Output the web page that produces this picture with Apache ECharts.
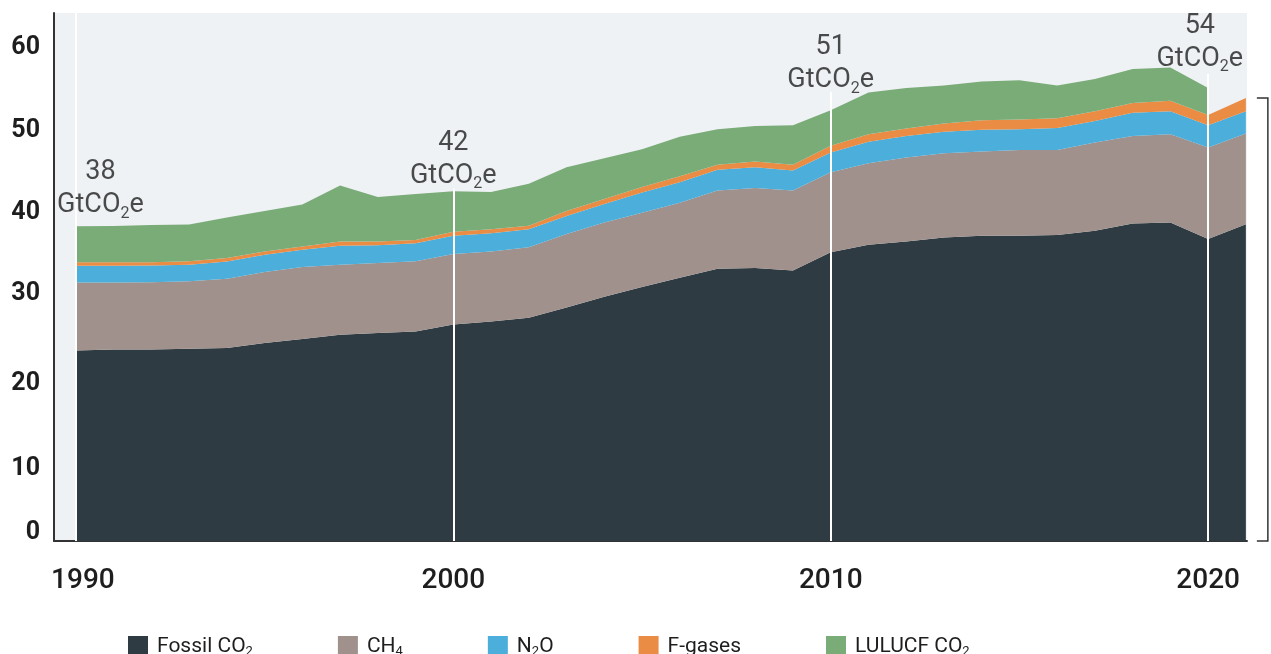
<!DOCTYPE html>
<html>
<head>
<meta charset="utf-8">
<script src="https://cdn.jsdelivr.net/npm/echarts@6/dist/echarts.min.js"></script>
<style>
html,body{margin:0;padding:0;background:#ffffff;}
#chart{width:1271px;height:654px;}
</style>
</head>
<body>
<div id="chart"></div>
<script>
// ---- data (GtCO2e) ----
const years = [1990,1991,1992,1993,1994,1995,1996,1997,1998,1999,2000,2001,2002,2003,2004,2005,2006,2007,2008,2009,2010,2011,2012,2013,2014,2015,2016,2017,2018,2019,2020,2021];
const fossilCO2 = [23.1,23.2,23.2,23.3,23.4,24.0,24.5,25.0,25.2,25.4,26.25,26.6,27.05,28.3,29.6,30.8,31.9,33.0,33.1,32.8,35.0,35.9,36.3,36.8,37.0,37.0,37.1,37.6,38.5,38.6,36.6,38.4];
const ch4 = [8.23,8.13,8.17,8.2,8.4,8.6,8.7,8.5,8.5,8.5,8.55,8.5,8.55,8.9,9.0,9.0,9.1,9.5,9.7,9.7,9.7,9.9,10.2,10.2,10.2,10.4,10.3,10.7,10.6,10.7,11.1,11.0];
const n2o = [2.02,2.02,2.03,2.0,2.07,2.1,2.1,2.3,2.15,2.2,2.2,2.2,2.2,2.2,2.25,2.45,2.5,2.5,2.5,2.4,2.4,2.6,2.6,2.6,2.65,2.5,2.65,2.6,2.8,2.8,2.7,2.7];
const fGases = [0.45,0.45,0.4,0.4,0.43,0.4,0.4,0.5,0.45,0.4,0.5,0.5,0.4,0.6,0.6,0.65,0.7,0.6,0.7,0.7,0.8,0.9,0.9,1.0,1.15,1.2,1.2,1.2,1.2,1.25,1.25,1.6];
const lulucfCO2 = [4.34,4.39,4.5,4.45,4.9,4.9,5.1,6.8,5.4,5.55,4.9,4.5,5.1,5.3,4.95,4.6,4.8,4.3,4.3,4.8,4.3,5.05,4.9,4.6,4.7,4.75,3.95,3.9,4.1,4.05,3.25,null];

const seriesNames = ['Fossil CO2','CH4','N2O','F-gases','LULUCF CO2'];
const seriesValues = [fossilCO2, ch4, n2o, fGases, lulucfCO2];
const xTickValues = [1990, 2000, 2010, 2020];
const yTickValues = [0, 10, 20, 30, 40, 50, 60];
const annotationTotals = ['38', '42', '51', '54'];
const annotationYears = [1990, 2000, 2010, 2021];

// ---- styling / layout ----
const colors = ['#2e3b42', '#a0918c', '#4caeda', '#ea8c44', '#7aac78'];
const plotBg = '#eff2f5';
const textColor = '#1e1e1e';
const FONT = 'Roboto, "Noto Sans", sans-serif';
// label anchor placement (year offset, height above total) per annotation
const annotationPlacement = [[0.65, 4.55], [0, 3.85], [0, 5.65], [-1.22, 6.75]];
// upper end (axis units) of the white decade guide lines, stopping under the labels
const guideTops = [64, 42.7, 54.4, 56.6];
// small vertical nudges (px) of y tick labels as in the original artwork
const yLabelNudge = { 0: -8, 10: 10, 20: 8, 30: 0, 40: 2, 50: 2, 60: 2 };

function totalAt(i) {
  let t = 0;
  seriesValues.forEach(arr => { if (arr[i] != null) t += arr[i]; });
  return t;
}

const lastIdx = years.length - 1;
const lastTotal = totalAt(lastIdx);

// value first, year second -> stacking happens on the value dimension
const areaSeries = seriesNames.map((name, k) => ({
  name: name,
  type: 'line',
  stack: 'total',
  symbol: 'none',
  showSymbol: false,
  smooth: false,
  connectNulls: false,
  lineStyle: { width: 0 },
  areaStyle: { color: colors[k], opacity: 1 },
  itemStyle: { color: colors[k] },
  emphasis: { disabled: true },
  dimensions: ['value', 'year'],
  encode: { x: 'year', y: 'value' },
  data: years.map((y, i) => [seriesValues[k][i] == null ? null : seriesValues[k][i], y])
}));

function subFmt(name) {
  return name.replace(/([A-Za-z])(\d)/g, '$1\u0000$2\u0001')
    .split(/(\u0000\d\u0001)/)
    .filter(s => s.length)
    .map(s => s.charAt(0) === '\u0000' ? '{s|' + s.slice(1, -1) + '}' : '{b|' + s + '}')
    .join('');
}

const annotationData = annotationYears.map((yr, j) => {
  const i = years.indexOf(yr);
  return [yr + annotationPlacement[j][0], totalAt(i) + annotationPlacement[j][1]];
});

const yRich = {};
yTickValues.forEach(v => {
  const n = yLabelNudge[v] || 0;
  yRich['y' + v] = {
    fontSize: 25, fontWeight: 'bold', color: textColor, fontFamily: FONT,
    padding: n >= 0 ? [2 * n, 0, 0, 0] : [0, 0, -2 * n, 0]
  };
});

const option = {
  animation: false,
  backgroundColor: '#ffffff',
  grid: {
    left: 54, right: 24, top: 13, bottom: 113,
    containLabel: false,
    show: true, backgroundColor: plotBg, borderWidth: 0
  },
  legend: {
    data: seriesNames,
    left: 123, top: 631,
    itemWidth: 20, itemHeight: 21, itemGap: 85,
    icon: 'rect',
    selectedMode: false,
    formatter: n => subFmt(n),
    textStyle: {
      padding: [0, 0, 0, 4],
      rich: {
        b: { fontSize: 21, lineHeight: 23, color: textColor, fontFamily: FONT },
        s: { fontSize: 13, lineHeight: 8, verticalAlign: 'bottom', color: textColor, fontFamily: FONT }
      }
    }
  },
  xAxis: {
    type: 'value',
    min: 1989.42, max: 2021.03,
    axisLine: { show: true, lineStyle: { color: '#333333', width: 2 } },
    axisTick: { show: false },
    splitLine: { show: false },
    axisLabel: {
      customValues: xTickValues,
      formatter: v => (v === 1990 ? '{f|1990}' : String(v)),
      fontSize: 28, color: textColor, fontFamily: FONT, fontWeight: 500,
      margin: 26,
      rich: {
        f: { fontSize: 28, fontWeight: 500, color: textColor, fontFamily: FONT, padding: [0, 0, 0, 14] }
      }
    }
  },
  yAxis: {
    type: 'value',
    min: 0, max: 64, interval: 10,
    axisLine: { show: true, lineStyle: { color: '#333333', width: 2 } },
    axisTick: { show: false },
    splitLine: { show: false },
    axisLabel: {
      formatter: v => (yTickValues.indexOf(v) >= 0 ? '{y' + v + '|' + v + '}' : ''),
      fontSize: 25, color: textColor, fontFamily: FONT, fontWeight: 'bold',
      margin: 14,
      rich: yRich
    }
  },
  series: areaSeries.concat([
    {
      name: 'decadeLines',
      type: 'line',
      data: [],
      z: 3,
      silent: true,
      markLine: {
        silent: true,
        symbol: 'none',
        label: { show: false },
        lineStyle: { color: '#ffffff', width: 2, type: 'solid', opacity: 1 },
        emphasis: { disabled: true },
        data: xTickValues.map((v, j) => [{ coord: [v, 0] }, { coord: [v, guideTops[j]] }])
      }
    },
    {
      name: 'annotations',
      type: 'scatter',
      symbolSize: 0,
      z: 5,
      silent: true,
      data: annotationData,
      label: {
        show: true,
        position: 'inside',
        align: 'center',
        verticalAlign: 'middle',
        formatter: p => '{n|' + annotationTotals[p.dataIndex] + '}\n{a|GtCO}{s|2}{a|e}',
        rich: {
          n: { fontSize: 27, lineHeight: 33, color: textColor, fontFamily: FONT, align: 'center' },
          a: { fontSize: 27, lineHeight: 33, color: textColor, fontFamily: FONT },
          s: { fontSize: 16, lineHeight: 14, verticalAlign: 'bottom', color: textColor, fontFamily: FONT }
        }
      }
    },
    {
      name: 'bracket',
      type: 'custom',
      coordinateSystem: 'cartesian2d',
      clip: false,
      silent: true,
      z: 4,
      data: [[years[lastIdx], lastTotal]],
      renderItem: (params, api) => {
        const top = api.coord([api.value(0), api.value(1)]);
        const bot = api.coord([api.value(0), 0]);
        return {
          type: 'polyline',
          shape: { points: [[top[0] + 11, top[1]], [top[0] + 22, top[1]], [top[0] + 22, bot[1]], [top[0] + 11, bot[1]]] },
          style: { stroke: '#333333', lineWidth: 1.5, fill: null }
        };
      }
    }
  ])
};

const chart = echarts.init(document.getElementById('chart'), null, { renderer: 'canvas' });
chart.setOption(option);
</script>
</body>
</html>
